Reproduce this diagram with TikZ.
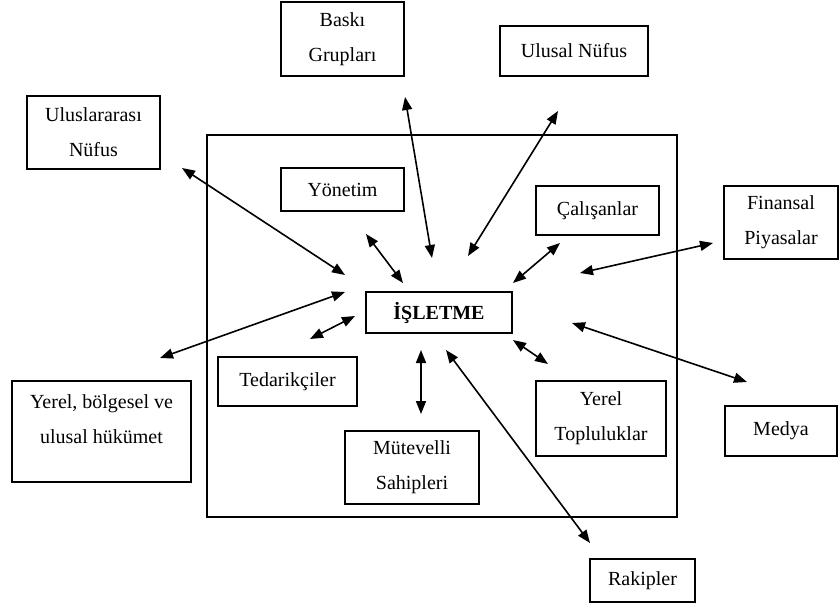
\documentclass[tikz,border=0pt]{standalone}
\usepackage{fontspec}
\setmainfont{Liberation Serif}
\usetikzlibrary{arrows.meta}

\tikzset{
    kutu/.style={draw, line width=1.5pt, align=center, inner sep=0pt,
        font=\fontsize{20}{35}\selectfont},
    ok/.style={{Triangle[length=13pt,width=10pt]}-{Triangle[length=13pt,width=10pt]},
        line width=1.6pt},
}

\begin{document}
\begin{tikzpicture}[x=1pt, y=-1pt]
    \useasboundingbox (0,0) rectangle (840,604);

    % dis cerceve
    \draw[line width=1.5pt] (207,135) rectangle (677,517);

    % kutular
    \node[kutu, minimum width=123pt, minimum height=74pt] (baski) at (342.5,39) {Baskı\\Grupları};
    \node[kutu, minimum width=148pt, minimum height=50pt] (ulusal) at (574,51) {Ulusal Nüfus};
    \node[kutu, minimum width=133pt, minimum height=73pt] (uluslar) at (93.5,132.5) {Uluslararası\\Nüfus};
    \node[kutu, minimum width=123pt, minimum height=43pt] (yonetim) at (342.5,189.5) {Yönetim};
    \node[kutu, minimum width=123pt, minimum height=49pt] (calisan) at (597.5,210.5) {Çalışanlar};
    \node[kutu, minimum width=114pt, minimum height=73pt] (finans) at (781,222.5) {Finansal\\Piyasalar};
    \node[kutu, minimum width=146pt, minimum height=41pt, font=\fontsize{20}{35}\selectfont\bfseries] (isletme) at (439,312.5) {İŞLETME};
    \node[kutu, minimum width=139pt, minimum height=49pt] (tedarik) at (287.5,381.5) {Tedarikçiler};
    \node[kutu, minimum width=179pt, minimum height=101pt, text depth=24pt] (hukumet) at (101.5,431.5) {Yerel, bölgesel ve\\ulusal hükümet};
    \node[kutu, minimum width=134pt, minimum height=73pt] (mutevelli) at (412,467.5) {Mütevelli\\Sahipleri};
    \node[kutu, minimum width=130pt, minimum height=75pt] (topluluk) at (601,418.5) {Yerel\\Topluluklar};
    \node[kutu, minimum width=112pt, minimum height=50pt] (medya) at (781,431) {Medya};
    \node[kutu, minimum width=105pt, minimum height=43pt] (rakip) at (642.5,580.5) {Rakipler};

    % ok uclari
    \coordinate (uluslar-d) at (182,168);   \coordinate (uluslar-i) at (345,275);
    \coordinate (yonetim-d) at (366,234);   \coordinate (yonetim-i) at (403,283);
    \coordinate (baski-d) at (405,97);      \coordinate (baski-i) at (432,258);
    \coordinate (ulusal-d) at (558,111);    \coordinate (ulusal-i) at (468,256);
    \coordinate (calisan-d) at (560,243);   \coordinate (calisan-i) at (513,283);
    \coordinate (finans-d) at (713,243);    \coordinate (finans-i) at (580,273);
    \coordinate (hukumet-d) at (160,358);   \coordinate (hukumet-i) at (345,292);
    \coordinate (tedarik-d) at (310,339);   \coordinate (tedarik-i) at (355,316);
    \coordinate (mutevelli-d) at (421,414); \coordinate (mutevelli-i) at (421,350);
    \coordinate (rakip-d) at (590,543);     \coordinate (rakip-i) at (446,350);
    \coordinate (topluluk-d) at (548,364);  \coordinate (topluluk-i) at (513,340);
    \coordinate (medya-d) at (747,382);     \coordinate (medya-i) at (572,323);

    % oklar
    \draw[ok] (uluslar-d) -- (uluslar-i);
    \draw[ok] (yonetim-d) -- (yonetim-i);
    \draw[ok] (baski-d) -- (baski-i);
    \draw[ok] (ulusal-d) -- (ulusal-i);
    \draw[ok] (calisan-d) -- (calisan-i);
    \draw[ok] (finans-d) -- (finans-i);
    \draw[ok] (hukumet-d) -- (hukumet-i);
    \draw[ok] (tedarik-d) -- (tedarik-i);
    \draw[ok] (mutevelli-d) -- (mutevelli-i);
    \draw[ok] (rakip-d) -- (rakip-i);
    \draw[ok] (topluluk-d) -- (topluluk-i);
    \draw[ok] (medya-d) -- (medya-i);
\end{tikzpicture}
\end{document}
